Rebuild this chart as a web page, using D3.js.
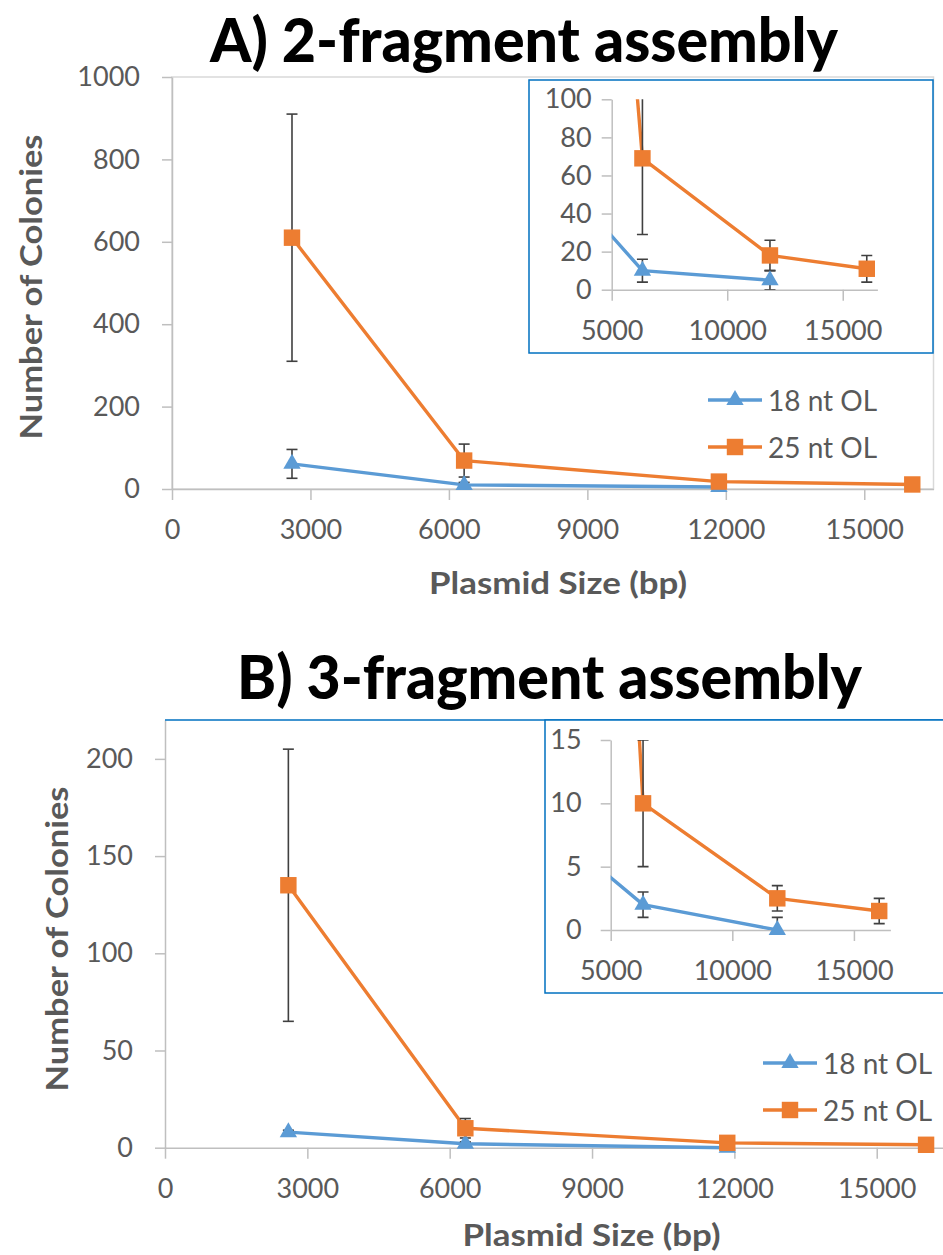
<!DOCTYPE html>
<html>
<head>
<meta charset="utf-8">
<script src="https://cdn.jsdelivr.net/npm/d3@7"></script>
<style>
  body { margin: 0; background: #fff; }
  svg text { font-family: Lato, Carlito, 'Open Sans', sans-serif; }
  .tick text { fill: #595959; font-size: 27px; }
  .tick line, .domain { stroke: #bfbfbf; stroke-width: 1.5; }
</style>
</head>
<body>
<svg id="chart" width="943" height="1255"></svg>
<script>
const seriesNames = ['18 nt OL', '25 nt OL'];
const seriesColors = ['#5b9bd5', '#ed7d31'];

// plasmid sizes (bp) for each overlap length
const sizes18 = [2600, 6330, 11850];
const sizes25 = [2600, 6330, 11850, 16040];

// A) 2-fragment assembly
const twoFrag18 = [61, 10, 5];
const twoFrag18Err = [35, 6, 5];
const twoFrag25 = [610, 69, 18, 11];
const twoFrag25Err = [300, 40, 8, 7];

// B) 3-fragment assembly
const threeFrag18 = [8, 2, 0];
const threeFrag18Err = [1, 1, 1];
const threeFrag25 = [135, 10, 2.5, 1.5];
const threeFrag25Err = [70, 5, 1, 1];

const xTicksMain = [0, 3000, 6000, 9000, 12000, 15000];
const xTicksInset = [5000, 10000, 15000];
const yTicksA = [0, 200, 400, 600, 800, 1000];
const yTicksAInset = [0, 20, 40, 60, 80, 100];
const yTicksB = [0, 50, 100, 150, 200];
const yTicksBInset = [0, 5, 10, 15];

const svg = d3.select('#chart');
const fmt = d3.format('d');

function toPoints(xs, ys, errs) {
  return xs.map((x, i) => ({x: x, y: ys[i], e: errs[i]}));
}

function drawAxes(g, x, y, xTicks, yTicks, yPad, xPad) {
  g.append('g')
    .attr('transform', `translate(0,${y.range()[0]})`)
    .call(d3.axisBottom(x).tickValues(xTicks).tickFormat(fmt)
      .tickSize(11).tickSizeOuter(0).tickPadding(xPad));

  g.append('g')
    .attr('transform', `translate(${x.range()[0]},0)`)
    .call(d3.axisLeft(y).tickValues(yTicks).tickFormat(fmt)
      .tickSize(10).tickSizeOuter(0).tickPadding(yPad));
}

function drawSeries(g, x, y, series, clipId) {
  let clipped = g.append('g');
  if (clipId) clipped.attr('clip-path', `url(#${clipId})`);

  let line = d3.line().x(d => x(d.x)).y(d => y(d.y));

  series.forEach((s, i) => {
    clipped.append('path')
      .datum(s)
      .attr('fill', 'none')
      .attr('stroke', seriesColors[i])
      .attr('stroke-width', 3.4)
      .attr('stroke-linejoin', 'round')
      .attr('d', line);
  });

  // Error bars.
  series.forEach(s => {
    let bars = clipped.selectAll(null)
      .data(s)
      .enter()
      .append('g')
      .attr('stroke', '#404040')
      .attr('stroke-width', 1.6);
    bars.append('line')
      .attr('x1', d => x(d.x)).attr('x2', d => x(d.x))
      .attr('y1', d => y(d.y - d.e)).attr('y2', d => y(d.y + d.e));
    bars.append('line')
      .attr('x1', d => x(d.x) - 5.5).attr('x2', d => x(d.x) + 5.5)
      .attr('y1', d => y(d.y + d.e)).attr('y2', d => y(d.y + d.e));
    bars.append('line')
      .attr('x1', d => x(d.x) - 5.5).attr('x2', d => x(d.x) + 5.5)
      .attr('y1', d => y(d.y - d.e)).attr('y2', d => y(d.y - d.e));
  });

  // Markers (only those inside the plot).
  let [x0, x1] = x.domain();
  let [y0, y1] = y.domain();
  series.forEach((s, i) => {
    let sym = i === 0 ? d3.symbol(d3.symbolTriangle, 130) : d3.symbol(d3.symbolSquare, 270);
    g.selectAll(null)
      .data(s.filter(d => d.x >= x0 && d.x <= x1 && d.y >= y0 && d.y <= y1))
      .enter()
      .append('path')
      .attr('d', sym)
      .attr('transform', d => `translate(${x(d.x)},${y(d.y)})`)
      .attr('fill', seriesColors[i]);
  });
}

function drawLegend(g, lx, ly, gap) {
  seriesNames.forEach((name, i) => {
    let row = g.append('g').attr('transform', `translate(${lx},${ly + i * gap})`);
    row.append('line')
      .attr('x1', 0).attr('x2', 54)
      .attr('stroke', seriesColors[i]).attr('stroke-width', 3.4);
    row.append('path')
      .attr('d', i === 0 ? d3.symbol(d3.symbolTriangle, 130) : d3.symbol(d3.symbolSquare, 270))
      .attr('transform', 'translate(27,0)')
      .attr('fill', seriesColors[i]);
    row.append('text')
      .attr('x', 60)
      .attr('dominant-baseline', 'central')
      .attr('fill', '#595959')
      .style('font-size', '28px')
      .text(name);
  });
}

function drawTitle(text, cx, baseline, width) {
  svg.append('text')
    .attr('x', cx - width / 2)
    .attr('y', baseline)
    .attr('textLength', width)
    .attr('lengthAdjust', 'spacingAndGlyphs')
    .style('font-size', '60px')
    .style('font-weight', '900')
    .attr('fill', '#000')
    .text(text);
}

function axisTitle(text, x, y, width, rotate) {
  svg.append('text')
    .attr('transform', `translate(${x},${y})` + (rotate ? ' rotate(-90)' : ''))
    .attr('x', -width / 2)
    .attr('textLength', width)
    .attr('lengthAdjust', 'spacingAndGlyphs')
    .style('font-size', '31px')
    .style('font-weight', 'bold')
    .attr('fill', '#595959')
    .text(text);
}

function clipRect(id, x, y) {
  svg.append('clipPath').attr('id', id)
    .append('rect')
    .attr('x', x.range()[0]).attr('y', y.range()[1])
    .attr('width', x.range()[1] - x.range()[0])
    .attr('height', y.range()[0] - y.range()[1]);
}

// ---------- Panel A ----------
let seriesA = [toPoints(sizes18, twoFrag18, twoFrag18Err), toPoints(sizes25, twoFrag25, twoFrag25Err)];

drawTitle('A) 2-fragment assembly', 524, 62, 628);

let xA = d3.scaleLinear().domain([0, 16500]).range([172, 933.5]);
let yA = d3.scaleLinear().domain([0, 1000]).range([489, 77]);
let gA = svg.append('g');

gA.append('rect')
  .attr('x', 172).attr('y', 77).attr('width', 933.5 - 172).attr('height', 489 - 77)
  .attr('fill', 'none').attr('stroke', '#d9d9d9').attr('stroke-width', 1.5);
drawAxes(gA, xA, yA, xTicksMain, yTicksA, 22, 20);
drawSeries(gA, xA, yA, seriesA, null);
drawLegend(gA, 708, 400, 47);

axisTitle('Number of Colonies', 42, 287, 305, true);
axisTitle('Plasmid Size (bp)', 558, 594, 258, false);

// inset A
let insetA = svg.append('g');
insetA.append('rect')
  .attr('x', 529).attr('y', 80).attr('width', 404).attr('height', 273)
  .attr('fill', '#fff').attr('stroke', '#0070c0').attr('stroke-width', 1.5);
let xAi = d3.scaleLinear().domain([5000, 16500]).range([611.7, 877.4]);
let yAi = d3.scaleLinear().domain([0, 100]).range([289.7, 99.3]);
clipRect('clipA', xAi, yAi);
drawAxes(insetA, xAi, yAi, xTicksInset, yTicksAInset, 10, 20);
drawSeries(insetA, xAi, yAi, seriesA, 'clipA');

// ---------- Panel B ----------
let seriesB = [toPoints(sizes18, threeFrag18, threeFrag18Err), toPoints(sizes25, threeFrag25, threeFrag25Err)];

drawTitle('B) 3-fragment assembly', 549.5, 699, 625);

let xB = d3.scaleLinear().domain([0, 16500]).range([165, 947.9]);
let yB = d3.scaleLinear().domain([0, 220]).range([1147.7, 720]);
let gB = svg.append('g');

drawAxes(gB, xB, yB, xTicksMain, yTicksB, 22, 20);
gB.append('line')
  .attr('x1', 165).attr('x2', 960).attr('y1', 720).attr('y2', 720)
  .attr('stroke', '#0070c0').attr('stroke-width', 1.5);
drawSeries(gB, xB, yB, seriesB, null);
drawLegend(gB, 763, 1063, 47);

axisTitle('Number of Colonies', 68, 939, 305, true);
axisTitle('Plasmid Size (bp)', 591.5, 1246, 258, false);

// inset B
let insetB = svg.append('g');
insetB.append('rect')
  .attr('x', 545).attr('y', 720).attr('width', 420).attr('height', 273)
  .attr('fill', '#fff').attr('stroke', '#0070c0').attr('stroke-width', 1.5);
let xBi = d3.scaleLinear().domain([5000, 16500]).range([610.7, 890.4]);
let yBi = d3.scaleLinear().domain([0, 15]).range([930, 740]);
clipRect('clipB', xBi, yBi);
drawAxes(insetB, xBi, yBi, xTicksInset, yTicksBInset, 19, 20);
drawSeries(insetB, xBi, yBi, seriesB, 'clipB');
</script>
</body>
</html>
